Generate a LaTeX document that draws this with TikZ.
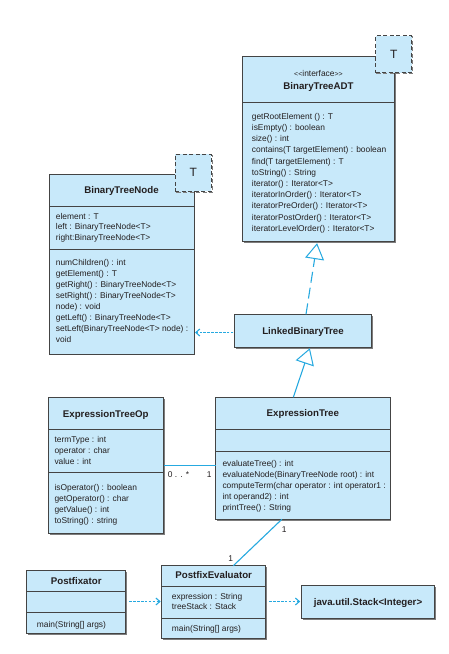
\documentclass[tikz,border=0pt]{standalone}
\usepackage{fontspec}
\setmainfont{Liberation Sans}
\usetikzlibrary{arrows.meta,shadows,calc}
\definecolor{boxfill}{RGB}{200,233,250}
\definecolor{boxline}{RGB}{68,68,68}
\definecolor{linkc}{RGB}{38,169,224}
\definecolor{shadowc}{RGB}{125,125,125}
\definecolor{txtc}{RGB}{35,31,32}
\begin{document}
\begin{tikzpicture}[x=1pt,y=-1pt,
  classbox/.style={draw=boxline, fill=boxfill, line width=0.9pt, inner sep=0pt, outer sep=0pt, anchor=north west,
    general shadow={shadow xshift=1.4pt, shadow yshift=-1.4pt, fill=shadowc}},
  tbox/.style={draw=boxline, fill=boxfill, line width=0.9pt, dash pattern=on 4pt off 2.5pt, inner sep=0pt, outer sep=0pt,
    minimum width=36pt, minimum height=37pt, font=\fontsize{12}{12}\selectfont, text=txtc,
    general shadow={shadow xshift=1.2pt, shadow yshift=-1.2pt, draw=shadowc, fill=none, dash pattern=on 4pt off 2.5pt}},
  sepline/.style={draw=boxline, line width=0.8pt},
  txt/.style={anchor=base west, inner sep=0pt, font=\fontsize{8.4}{11}\selectfont, text=txtc},
  ttl/.style={anchor=base, inner sep=0pt, font=\fontsize{9.7}{11}\selectfont\bfseries, text=txtc},
  lbl/.style={anchor=base, inner sep=0pt, font=\fontsize{8.4}{11}\selectfont, text=txtc},
  link/.style={draw=linkc, line width=1.1pt},
  dep/.style={link, dash pattern=on 2.6pt off 1.3pt, -{Straight Barb[length=4pt,width=7pt]}},
  real/.style={link, dash pattern=on 11pt off 5pt, -{Triangle[open, length=16pt, width=19pt, line width=1pt]}},
  gen/.style={link, -{Triangle[open, length=16pt, width=19pt, line width=1pt]}}
]
\fill[white] (0,0) rectangle (449,654);
\useasboundingbox (0,0) rectangle (449,654);

% ---------- BinaryTreeADT ----------
\node[classbox, minimum width=151.6pt, minimum height=185.7pt] (adt) at (242.7,56) {};
\draw[sepline] (adt.west |- 0,102) -- (adt.east |- 0,102);
\node[lbl] (adtst) at (adt.center |- 0,76) {{\fontsize{7}{8}\selectfont<\kern0pt<}interface{\fontsize{7}{8}\selectfont>\kern0pt>}};
\node[ttl] (adtt) at (adt.center |- 0,89.5) {BinaryTreeADT};
\foreach \t [count=\i from 0] in {getRootElement () : T, isEmpty() : boolean, size() : int,
  contains(T targetElement) : boolean, find(T targetElement) : T, toString() : String,
  iterator() : Iterator<T>, iteratorInOrder() : Iterator<T>, iteratorPreOrder() : Iterator<T>,
  iteratorPostOrder() : Iterator<T>, iteratorLevelOrder() : Iterator<T>}
  \node[txt] (adtm\i) at (251.7,119.3+11.2*\i) {\t};
\node[tbox] (adtT) at (393.7,54) {T};

% ---------- BinaryTreeNode ----------
\node[classbox, minimum width=145pt, minimum height=179.7pt] (btn) at (49,174.3) {};
\draw[sepline] (btn.west |- 0,206) -- (btn.east |- 0,206);
\draw[sepline] (btn.west |- 0,249) -- (btn.east |- 0,249);
\node[ttl] (btnt) at (121.5,193.5) {BinaryTreeNode};
\foreach \t [count=\i from 0] in {element : T, left : BinaryTreeNode<T>, right:BinaryTreeNode<T>}
  \node[txt] (btna\i) at (55.7,219+10.8*\i) {\t};
\foreach \t [count=\i from 0] in {numChildren() : int, getElement() : T, getRight() : BinaryTreeNode<T>,
  setRight() : BinaryTreeNode<T>, node) : void, getLeft() : BinaryTreeNode<T>,
  setLeft(BinaryTreeNode<T> node) :, void}
  \node[txt] (btnm\i) at (55.7,265.7+10.94*\i) {\t};
\node[tbox] (btnT) at (193.3,172.8) {T};

% ---------- LinkedBinaryTree ----------
\node[classbox, minimum width=137.4pt, minimum height=33.4pt] (lbt) at (234.3,314.3) {};
\node[ttl] (lbtt) at (lbt.center |- 0,334.5) {LinkedBinaryTree};

% ---------- ExpressionTreeOp ----------
\node[classbox, minimum width=115pt, minimum height=136pt] (etop) at (48.3,397.3) {};
\draw[sepline] (etop.west |- 0,429.3) -- (etop.east |- 0,429.3);
\draw[sepline] (etop.west |- 0,472.3) -- (etop.east |- 0,472.3);
\node[ttl] (etopt) at (etop.center |- 0,417.5) {ExpressionTreeOp};
\foreach \t [count=\i from 0] in {termType : int, operator : char, value : int}
  \node[txt] (etopa\i) at (54.3,442.3+11*\i) {\t};
\foreach \t [count=\i from 0] in {isOperator() : boolean, getOperator() : char, getValue() : int, toString() : string}
  \node[txt] (etopm\i) at (54.3,490.7+11*\i) {\t};

% ---------- ExpressionTree ----------
\node[classbox, minimum width=174.3pt, minimum height=122pt] (et) at (215.7,397.3) {};
\draw[sepline] (et.west |- 0,429.3) -- (et.east |- 0,429.3);
\draw[sepline] (et.west |- 0,451) -- (et.east |- 0,451);
\node[ttl] (ett) at (et.center |- 0,416.8) {ExpressionTree};
\foreach \t [count=\i from 0] in {evaluateTree() : int, evaluateNode(BinaryTreeNode root) : int,
  computeTerm(char operator : int operator1 :, int operand2) : int, printTree() : String}
  \node[txt] (etm\i) at (222.3,466.3+11*\i) {\t};

% ---------- Postfixator ----------
\node[classbox, minimum width=99pt, minimum height=62.6pt] (pf) at (26.7,570.7) {};
\draw[sepline] (pf.west |- 0,591) -- (pf.east |- 0,591);
\draw[sepline] (pf.west |- 0,612.7) -- (pf.east |- 0,612.7);
\node[ttl] (pft) at (pf.center |- 0,584.5) {Postfixator};
\node[txt] (pfm) at (36.7,627) {main(String[] args)};

% ---------- PostfixEvaluator ----------
\node[classbox, minimum width=104pt, minimum height=72.6pt] (pe) at (161.7,565.7) {};
\draw[sepline] (pe.west |- 0,586) -- (pe.east |- 0,586);
\draw[sepline] (pe.west |- 0,618.3) -- (pe.east |- 0,618.3);
\node[ttl] (pet) at (pe.center |- 0,578.5) {PostfixEvaluator};
\node[txt] (pea0) at (171.7,599) {expression : String};
\node[txt] (pea1) at (171.7,609.7) {treeStack : Stack};
\node[txt] (pem) at (171.7,631.7) {main(String[] args)};

% ---------- java.util.Stack ----------
\node[classbox, minimum width=132.6pt, minimum height=32.6pt] (stk) at (301.7,585.7) {};
\node[ttl] (stkt) at (stk.center |- 0,605.2) {java.util.Stack<Integer>};

% ---------- connectors ----------
\draw[dep, shorten <=1pt, shorten >=1pt] ($(lbt.west)+(0,1.5)$) -- ($(btn.east |- lbt.west)+(0,1.5)$);
\draw[real, shorten >=1.5pt] ($(lbt.north)+(3,0)$) -- ($(adt.south)+(-1.2,0)$);
\draw[gen, shorten >=0.5pt] ($(et.north)+(-9.5,0)$) -- ($(lbt.south)+(7,0)$);
\draw[link, line width=1.4pt] ($(etop.east)+(0.8,0.2)$) -- ($(et.west |- etop.east)+(0,0.2)$);
\draw[link] ($(et.south)+(-21,0)$) -- ($(pe.north)+(19.6,0)$);
\draw[dep, shorten <=3.5pt, shorten >=1pt] ($(pf.east |- pe.center)+(0,-0.5)$) -- ($(pe.west)+(0,-0.5)$);
\draw[dep, shorten <=3.5pt, shorten >=1.5pt] ($(pe.east)+(0,-0.5)$) -- ($(stk.west |- pe.east)+(0,-0.5)$);

% ---------- multiplicities ----------
\node[txt] (m1) at (167.7,477.3) {0 . . *};
\node[lbl] (m2) at (209.3,477.3) {1};
\node[lbl] (m3) at (284.3,532) {1};
\node[lbl] (m4) at (230.7,561.3) {1};
\end{tikzpicture}
\end{document}
